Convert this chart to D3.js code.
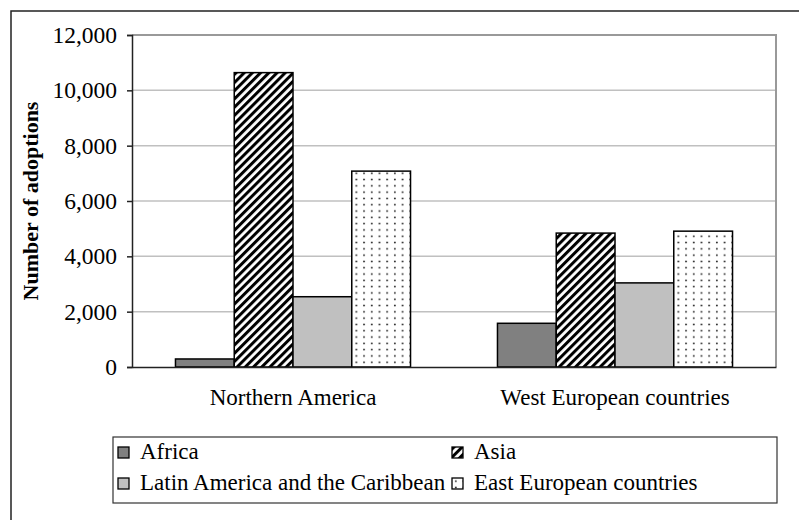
<!DOCTYPE html>
<html>
<head>
<meta charset="utf-8">
<script src="https://cdn.jsdelivr.net/npm/d3@7"></script>
<style>
  html, body { margin: 0; padding: 0; background: #fff; }
  svg { display: block; }
  text { font-family: "Liberation Serif", "Times New Roman", serif; fill: #000; }
</style>
</head>
<body>
<svg id="chart" width="799" height="520"></svg>
<script>
// Receiving regions (x categories)
const categories = ["Northern America", "West European countries"];
// Regions of origin (series)
const seriesNames = ["Africa", "Asia", "Latin America and the Caribbean", "East European countries"];
// Number of adoptions per series, one value per receiving region
const africa = [290, 1580];
const asia = [10640, 4840];
const latinAmerica = [2540, 3040];
const eastEurope = [7080, 4910];
const seriesValues = [africa, asia, latinAmerica, eastEurope];
// Y axis ticks
const yTicks = [0, 2000, 4000, 6000, 8000, 10000, 12000];
const yTitle = "Number of adoptions";

const svg = d3.select("#chart");
const W = 799, H = 520;
const plot = { left: 132, right: 776, top: 35, bottom: 367 };
const FONT = "Liberation Serif, Times New Roman, serif";

svg.append("rect").attr("width", W).attr("height", H).attr("fill", "#fff");

// Fill patterns
const defs = svg.append("defs");
const stripes = defs.append("pattern")
  .attr("id", "stripes").attr("patternUnits", "userSpaceOnUse")
  .attr("width", 5.8).attr("height", 5.8)
  .attr("patternTransform", "rotate(45)");
stripes.append("rect").attr("width", 5.8).attr("height", 5.8).attr("fill", "#fff");
stripes.append("rect").attr("width", 3).attr("height", 5.8).attr("fill", "#000");

const dots = defs.append("pattern")
  .attr("id", "dots").attr("patternUnits", "userSpaceOnUse")
  .attr("width", 7.7).attr("height", 6.3);
dots.append("rect").attr("width", 7.7).attr("height", 6.3).attr("fill", "#fff");
dots.append("circle").attr("cx", 3.8).attr("cy", 3.1).attr("r", 0.95).attr("fill", "#222");

const fills = ["#808080", "url(#stripes)", "#c0c0c0", "url(#dots)"];

// Outer frame
svg.append("path")
  .attr("d", `M11,${H + 5} L11,11 L${W + 5},11`)
  .attr("fill", "none").attr("stroke", "#222").attr("stroke-width", 1.5);

// Scales
const y = d3.scaleLinear().domain([0, 12000]).range([plot.bottom, plot.top]);
const x0 = d3.scaleBand().domain(categories).range([plot.left, plot.right])
  .paddingInner(0.27).paddingOuter(0.135);
const x1 = d3.scaleBand().domain(seriesNames).range([0, x0.bandwidth()]);

// Gridlines
svg.append("g").selectAll("line").data(yTicks.filter(d => d > 0)).join("line")
  .attr("x1", plot.left).attr("x2", plot.right)
  .attr("y1", d => y(d)).attr("y2", d => y(d))
  .attr("stroke", "#c0c0c0").attr("stroke-width", 1.5);

// Plot area border (top & right)
svg.append("path")
  .attr("d", `M${plot.left},${plot.top} L${plot.right},${plot.top} L${plot.right},${plot.bottom}`)
  .attr("fill", "none").attr("stroke", "#999").attr("stroke-width", 2);

// Bars
const groups = svg.append("g").selectAll("g").data(categories).join("g")
  .attr("transform", d => `translate(${x0(d)},0)`);
groups.selectAll("rect")
  .data((c, ci) => seriesNames.map((s, si) => ({ s, si, v: seriesValues[si][ci] })))
  .join("rect")
  .attr("x", d => x1(d.s))
  .attr("y", d => y(d.v))
  .attr("width", x1.bandwidth())
  .attr("height", d => y(0) - y(d.v))
  .attr("fill", d => fills[d.si])
  .attr("stroke", "#000").attr("stroke-width", 1.5);

// Y axis
const yAxis = svg.append("g").attr("transform", `translate(${plot.left},0)`)
  .call(d3.axisLeft(y).tickValues(yTicks).tickSize(5).tickPadding(10)
    .tickFormat(d3.format(",")));
yAxis.attr("font-family", FONT);
yAxis.select(".domain").attr("stroke", "#222").attr("stroke-width", 1.5);
yAxis.selectAll(".tick line").attr("stroke", "#222").attr("stroke-width", 1.5);
yAxis.selectAll(".tick text").attr("font-size", 23.5);

// X axis
const xAxis = svg.append("g").attr("transform", `translate(0,${plot.bottom})`)
  .call(d3.axisBottom(x0).tickSize(0).tickPadding(0));
xAxis.attr("font-family", FONT);
xAxis.select(".domain").attr("stroke", "#222").attr("stroke-width", 1.5);
xAxis.selectAll(".tick text").attr("font-size", 23)
  .attr("dy", null).attr("y", 38);

// Y axis title
svg.append("text")
  .attr("transform", `translate(38,${(plot.top + plot.bottom) / 2}) rotate(-90)`)
  .attr("text-anchor", "middle").attr("font-size", 22).attr("font-weight", "bold")
  .text(yTitle);

// Legend
const legend = svg.append("g");
legend.append("rect").attr("x", 113).attr("y", 437).attr("width", 664).attr("height", 66)
  .attr("fill", "#fff").attr("stroke", "#333").attr("stroke-width", 1.2);
const legendPos = [[118, 447], [452, 447], [118, 478], [452, 478]];
const items = legend.selectAll("g.item").data(seriesNames).join("g").attr("class", "item")
  .attr("transform", (d, i) => `translate(${legendPos[i][0]},${legendPos[i][1]})`);
items.append("rect").attr("width", 11).attr("height", 11)
  .attr("fill", (d, i) => fills[i]).attr("stroke", "#000").attr("stroke-width", 1.3);
items.append("text").attr("x", 22).attr("y", 12).attr("font-size", 23).text(d => d);
</script>
</body>
</html>
